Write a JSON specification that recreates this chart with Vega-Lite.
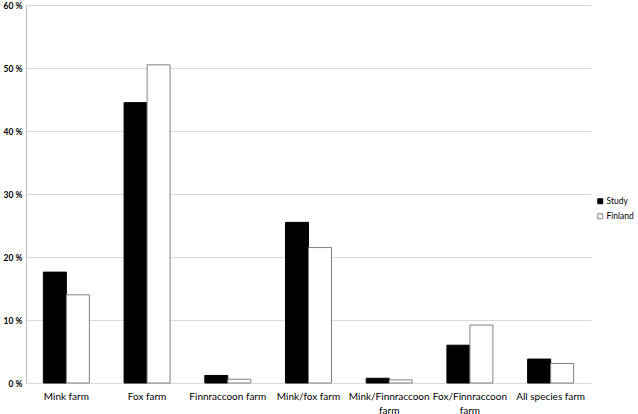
{
  "$schema": "https://vega.github.io/schema/vega-lite/v6.json",
  "width": 565,
  "height": 378,
  "autosize": {"type": "none"},
  "padding": {"left": 26, "top": 5, "right": 47, "bottom": 31},
  "background": "white",
  "config": {"view": {"stroke": null}, "font": "Lato"},
  "data": {"values": [
    {"farm": "Mink farm", "group": "Study", "pct": 17.6},
    {"farm": "Mink farm", "group": "Finland", "pct": 14.0},
    {"farm": "Fox farm", "group": "Study", "pct": 44.5},
    {"farm": "Fox farm", "group": "Finland", "pct": 50.5},
    {"farm": "Finnraccoon farm", "group": "Study", "pct": 1.2},
    {"farm": "Finnraccoon farm", "group": "Finland", "pct": 0.6},
    {"farm": "Mink/fox farm", "group": "Study", "pct": 25.5},
    {"farm": "Mink/fox farm", "group": "Finland", "pct": 21.5},
    {"farm": "Mink/Finnraccoon farm", "group": "Study", "pct": 0.75},
    {"farm": "Mink/Finnraccoon farm", "group": "Finland", "pct": 0.5},
    {"farm": "Fox/Finnraccoon farm", "group": "Study", "pct": 6.0},
    {"farm": "Fox/Finnraccoon farm", "group": "Finland", "pct": 9.2},
    {"farm": "All species farm", "group": "Study", "pct": 3.8},
    {"farm": "All species farm", "group": "Finland", "pct": 3.1}
  ]},
  "mark": {"type": "bar", "strokeWidth": 1},
  "encoding": {
    "x": {
      "field": "farm", "type": "nominal", "sort": null,
      "scale": {"paddingInner": 0.43, "paddingOuter": 0.215},
      "axis": {
        "title": null, "labelAngle": 0, "ticks": false, "domain": false,
        "labelFontSize": 10, "labelColor": "#000", "labelPadding": 8,
        "labelExpr": "datum.label == 'Mink/Finnraccoon farm' ? ['Mink/Finnraccoon', 'farm'] : datum.label == 'Fox/Finnraccoon farm' ? ['Fox/Finnraccoon', 'farm'] : datum.label",
        "labelLineHeight": 14
      }
    },
    "xOffset": {"field": "group", "type": "nominal", "sort": ["Study", "Finland"]},
    "y": {
      "field": "pct", "type": "quantitative",
      "scale": {"domain": [0, 60], "nice": false},
      "axis": {
        "title": null, "values": [0, 10, 20, 30, 40, 50, 60], "ticks": false,
        "domainColor": "#bfbfbf", "gridColor": "#d9d9d9",
        "labelExpr": "datum.value + ' %'", "labelFontSize": 8.5, "labelFontWeight": "bold",
        "labelColor": "#000", "labelPadding": 4
      }
    },
    "fill": {
      "field": "group", "type": "nominal", "sort": ["Study", "Finland"],
      "scale": {"domain": ["Study", "Finland"], "range": ["#000000", "#ffffff"]},
      "legend": {
        "title": null, "orient": "none", "legendX": 570, "legendY": 192,
        "symbolType": "square", "symbolSize": 25, "symbolStrokeColor": "#808080",
        "symbolStrokeWidth": 1, "labelFontSize": 8.5, "labelColor": "#000", "rowPadding": 5,
        "labelOffset": 2
      }
    },
    "stroke": {
      "field": "group", "type": "nominal",
      "scale": {"domain": ["Study", "Finland"], "range": ["#000000", "#808080"]},
      "legend": null
    }
  }
}
